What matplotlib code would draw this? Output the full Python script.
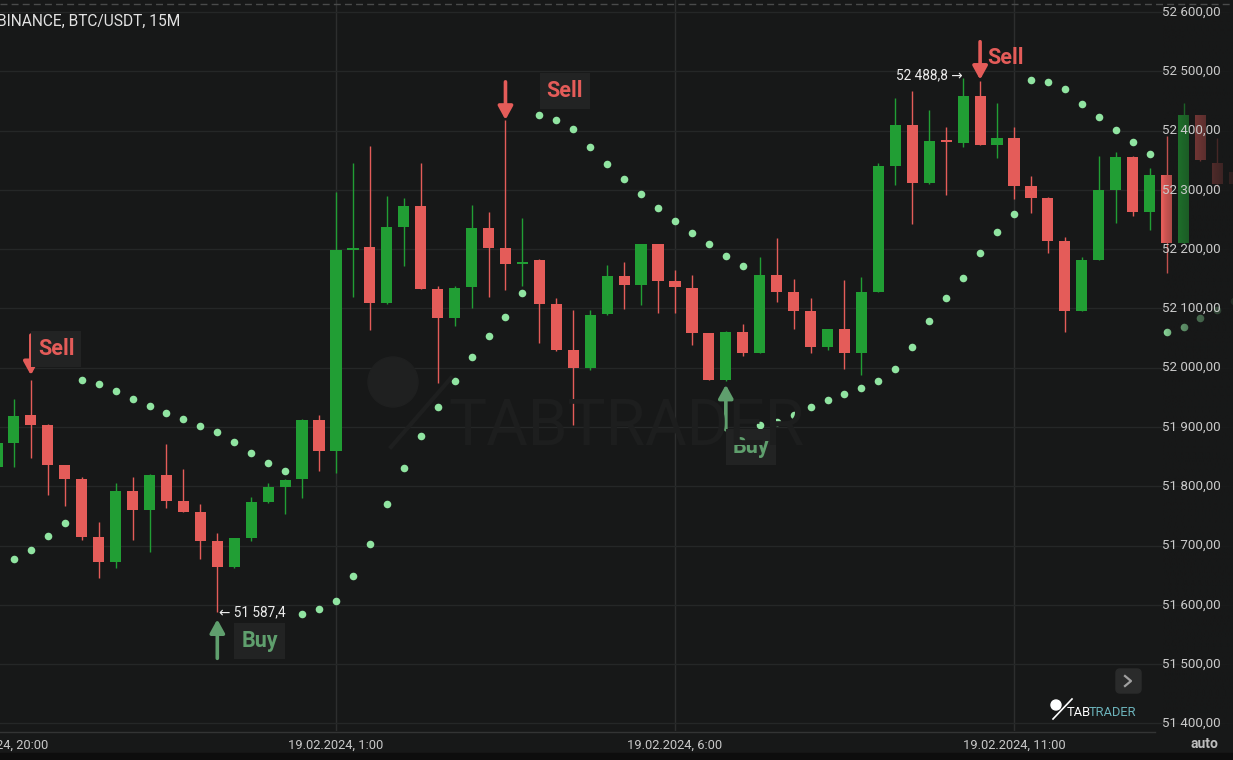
import numpy as np
import matplotlib.pyplot as plt
from matplotlib.patches import Rectangle, FancyBboxPatch, Circle
from matplotlib.lines import Line2D
import matplotlib.transforms as mtrans

plt.rcParams['font.family'] = ['Roboto', 'DejaVu Sans']

# 15 minute candles, BINANCE BTC/USDT, first one at 18.02.2024 20:00
opens = [51833, 51873, 51920, 51903, 51836, 51813, 51715, 51673, 51792, 51760,
         51819, 51776, 51756, 51708, 51664, 51712, 51774, 51799, 51812, 51911,
         51860, 52198, 52203, 52109, 52238, 52272, 52133, 52084, 52136, 52235,
         52202, 52175, 52181, 52107, 52030, 52000, 52090, 52154, 52139, 52208,
         52146, 52135, 52058, 51980, 52061, 52025, 52156, 52128, 52095, 52035,
         52065, 52025, 52128, 52340, 52410, 52311, 52383, 52379, 52459, 52375,
         52388, 52306, 52287, 52214, 52096, 52182, 52300, 52356, 52262, 52325,
         52210, 52426, 52346, 52330]
highs = [51880, 51947, 51979, 51905, 51836, 51815, 51740, 51806, 51815, 51820,
         51871, 51829, 51770, 51721, 51713, 51782, 51805, 51812, 51913, 51921,
         52296, 52346, 52374, 52290, 52286, 52346, 52137, 52137, 52274, 52263,
         52418, 52253, 52184, 52118, 52097, 52097, 52173, 52178, 52209, 52209,
         52165, 52156, 52058, 52062, 52074, 52187, 52218, 52149, 52118, 52066,
         52148, 52153, 52346, 52455, 52467, 52434, 52406, 52488.8, 52484, 52447,
         52406, 52324, 52288, 52221, 52187, 52357, 52364, 52357, 52336, 52391,
         52447, 52427, 52387, 52345]
lows = [51830, 51833, 51848, 51785, 51767, 51710, 51646, 51663, 51709, 51690,
        51763, 51756, 51678, 51587.4, 51663, 51707, 51772, 51753, 51780, 51826,
        51822, 52120, 52064, 52107, 52172, 52133, 51974, 52070, 52100, 52120,
        52131, 52138, 52041, 52028, 51903, 51996, 52089, 52099, 52106, 52093,
        52092, 52038, 51980, 51978, 52019, 52025, 52111, 52066, 52025, 52030,
        51997, 51988, 52127, 52308, 52243, 52310, 52292, 52372, 52375, 52354,
        52285, 52261, 52194, 52061, 52095, 52182, 52244, 52256, 52232, 52160,
        52209, 52349, 52305, 52300]
closes = [51873, 51919, 51903, 51836, 51813, 51715, 51673, 51792, 51760, 51819,
          51776, 51757, 51708, 51664, 51712, 51774, 51799, 51811, 51911, 51860,
          52198, 52202, 52109, 52237, 52272, 52133, 52084, 52135, 52235, 52202,
          52175, 52178, 52108, 52030, 52000, 52089, 52154, 52139, 52208, 52146,
          52136, 52058, 51980, 52061, 52025, 52156, 52128, 52095, 52035, 52065,
          52025, 52128, 52340, 52410, 52311, 52382, 52380, 52459, 52375, 52388,
          52306, 52287, 52214, 52096, 52182, 52300, 52356, 52262, 52325, 52210,
          52426, 52350, 52309, 52310]
# parabolic SAR
sar = [np.nan, 51678, 51693, 51717, 51738, 51979, 51973, 51961, 51947, 51935,
       51924, 51913, 51902, 51892, 51874, 51856, 51840, 51825, 51585, 51593,
       51606, 51648, 51703, 51770, 51831, 51885, 51934, 51978, 52018, 52053,
       52085, 52126, 52426, 52418, 52402, 52372, 52344, 52318, 52293, 52270,
       52247, 52227, 52208, 52189, 52172, 51903, 51909, 51921, 51933, 51945,
       51956, 51966, 51978, 51998, 52035, 52078, 52118, 52152, 52193, 52228,
       52259, 52485, 52481, 52470, 52445, 52422, 52401, 52380, 52360, 52061,
       52068, 52083, 52097, 52112]

signal_idx = [2, 13, 30, 43, 58]
signal_kind = ['Sell', 'Buy', 'Sell', 'Buy', 'Sell']

time_ticks = [0, 20, 40, 60]
time_labels = ['18.02.2024, 20:00', '19.02.2024, 1:00', '19.02.2024, 6:00', '19.02.2024, 11:00']
price_ticks = list(range(51400, 52601, 100))

BG = '#171818'
GREEN = '#219e34'
RED = '#e45c59'
SAR_C = '#90e4a1'
BUY_C = '#5f9f6d'

W, H = 1233, 760
PX = 0.593  # pixels per price unit
fig = plt.figure(figsize=(W / 100, H / 100), dpi=100, facecolor=BG)
ax = fig.add_axes([0, (H - 731) / H, 1, 731 / H], facecolor=BG)
pix = mtrans.IdentityTransform()

def P(x, y):
    return x / W, 1 - y / H

o = np.array(opens); c = np.array(closes)
idx = np.arange(len(o))
up = c >= o
cols = np.where(up, GREEN, RED)
body_lo = np.minimum(o, c)
body_h = np.maximum(np.abs(c - o), 4)

ax.vlines(idx, lows, highs, colors=cols, lw=1, zorder=3)
ax.bar(idx, body_h, bottom=body_lo, width=0.66, color=cols, zorder=3.1, linewidth=0)
ax.scatter(idx, sar, s=30, color=SAR_C, zorder=3.2, linewidths=0)

ax.set_yticks(price_ticks)
ax.set_xticks(time_ticks)
ax.tick_params(axis='both', length=0, labelleft=False, labelbottom=False)
ax.grid(axis='y', color='#252727', lw=1)
ax.grid(axis='x', color='#2d2e2e', lw=1)
ax.set_axisbelow(True)
for s in ax.spines.values():
    s.set_visible(False)

# time labels (first one sits partly off the left edge)
trx = mtrans.blended_transform_factory(ax.transData, fig.transFigure)
for t, lab in zip(time_ticks, time_labels):
    ax.text(t, 1 - 745 / H, lab, transform=trx, ha='center', va='center', fontsize=9.3,
            color='#c8c8c8', clip_on=False)

# watermark
fig.patches.append(Circle((393, H - 382), 25, transform=pix, color='#1f2020', zorder=0.5))
fig.lines.append(Line2D([391, 451], [H - 447, H - 378], transform=pix, color='#1e1f1f', lw=3, zorder=0.5))
fig.text(*P(448, 427), 'TABTRADER', fontsize=46, color='#1d1e1e', ha='left', va='center', zorder=0.5)

# buy / sell signals
sig_dx = [8, 25, 42, 8, 8]
sig_dy = [31, -29, 29, -66, 23]
arrow_tip = [5, 7, 0, 4, 1]
arrow_len = [40, 39, 38, 45, 38]
sig_box = [True, True, True, True, False]
for k, i in enumerate(signal_idx):
    if signal_kind[k] == 'Sell':
        yv, col, sgn = highs[i], RED, 1
    else:
        yv, col, sgn = lows[i], BUY_C, -1
    ax.annotate('', xy=(i, yv + sgn * arrow_tip[k] / PX), xytext=(0, sgn * arrow_len[k]),
                textcoords='offset pixels',
                arrowprops=dict(arrowstyle='-|>,head_length=0.4,head_width=0.22', color=col,
                                lw=2.6, mutation_scale=20, shrinkA=0, shrinkB=0), zorder=4)
    bbox = dict(boxstyle='square,pad=0.32', fc='#222323', ec='none') if sig_box[k] else None
    ax.annotate(signal_kind[k], xy=(i, yv), xytext=(sig_dx[k] - 1, sig_dy[k]),
                textcoords='offset pixels', ha='left', va='center', fontsize=15.5,
                fontweight='bold', color=col, bbox=bbox, zorder=4)

# extreme price labels
lo_i = int(np.argmin(lows)); hi_i = int(np.argmax(highs))
fmt1 = lambda v: f'{v:,.1f}'.replace(',', ' ').replace('.', ',')
ax.annotate('\u2190 ' + fmt1(lows[lo_i]), xy=(lo_i, lows[lo_i]), xytext=(2, 0), textcoords='offset pixels',
            ha='left', va='center', fontsize=9.8, color='#ececec', zorder=4)
ax.annotate(fmt1(highs[hi_i]) + ' \u2192', xy=(hi_i, highs[hi_i]), xytext=(-1, 3), textcoords='offset pixels',
            ha='right', va='center', fontsize=9.8, color='#ececec', zorder=4)

# fade under price scale
xs = np.linspace(0, 1, 200)
x0_px, x1_px = 1163, 1233
grad = np.zeros((2, len(xs), 4))
grad[..., 0] = 0x17 / 255; grad[..., 1] = 0x18 / 255; grad[..., 2] = 0x18 / 255
grad[..., 3] = 0.9 * xs ** 0.6
ax.imshow(grad, extent=((x0_px + 3) / 16.95, (x1_px + 3) / 16.95, 51387.3, 52620.1),
          aspect='auto', zorder=5, interpolation='bilinear')
ax.set_xlim(0.18, 72.92)
ax.set_ylim(51387.3, 52620.1)

# price labels
tr = mtrans.blended_transform_factory(ax.transAxes, ax.transData)
for p in price_ticks:
    ax.text(1162 / W, p, f'{p:,.2f}'.replace(',', ' ').replace('.', ','), transform=tr,
            ha='left', va='center', fontsize=9.6, color='#cbcbcb', zorder=6)

# axis line and decorations
fig.lines.append(Line2D([0, 1155 / W], [1 - 731.5 / H] * 2, transform=fig.transFigure, color='#333434', lw=1))
fig.lines.append(Line2D([0, 1], [1 - 3.5 / H] * 2, transform=fig.transFigure, color='#4a4b4b', lw=1,
                        dashes=(5, 3)))
fig.patches.append(Rectangle((0, 0), 1, 7 / H, transform=fig.transFigure, color='#0d0d0d'))
fig.text(*P(-3, 21), 'BINANCE, BTC/USDT, 15M', fontsize=11.2, color='#e2e2e2', ha='left', va='center')
fig.text(*P(1204, 744), 'auto', fontsize=10, fontweight='bold', color='#bdbdbd', ha='center', va='center')

# chevron button
fig.patches.append(FancyBboxPatch((1116, H - 693), 25, 24, boxstyle='round,pad=0,rounding_size=4',
                                  transform=pix, color='#2a2b2b', zorder=6))
fig.lines.append(Line2D([1125, 1131, 1125], [H - 676, H - 681, H - 686],
                        transform=pix, color='#a0a0a0', lw=1.6, zorder=7))

# small logo
fig.patches.append(Circle((1056, H - 705), 5, transform=pix, color='white', zorder=7))
fig.lines.append(Line2D([1053, 1072], [H - 719, H - 699], transform=pix, color='white', lw=1.2, zorder=7))
t_tab = fig.text(*P(1067, 713), 'TAB', fontsize=9.3, color='white', ha='left', va='center', zorder=7)
ax.annotate('TRADER', xy=(1, 0.5), xycoords=t_tab, xytext=(-2, 0), textcoords='offset pixels',
            ha='left', va='center', fontsize=9.3, color='#6cb3bb', annotation_clip=False, zorder=7)

fig.savefig('out.png', dpi=100, facecolor=BG)
